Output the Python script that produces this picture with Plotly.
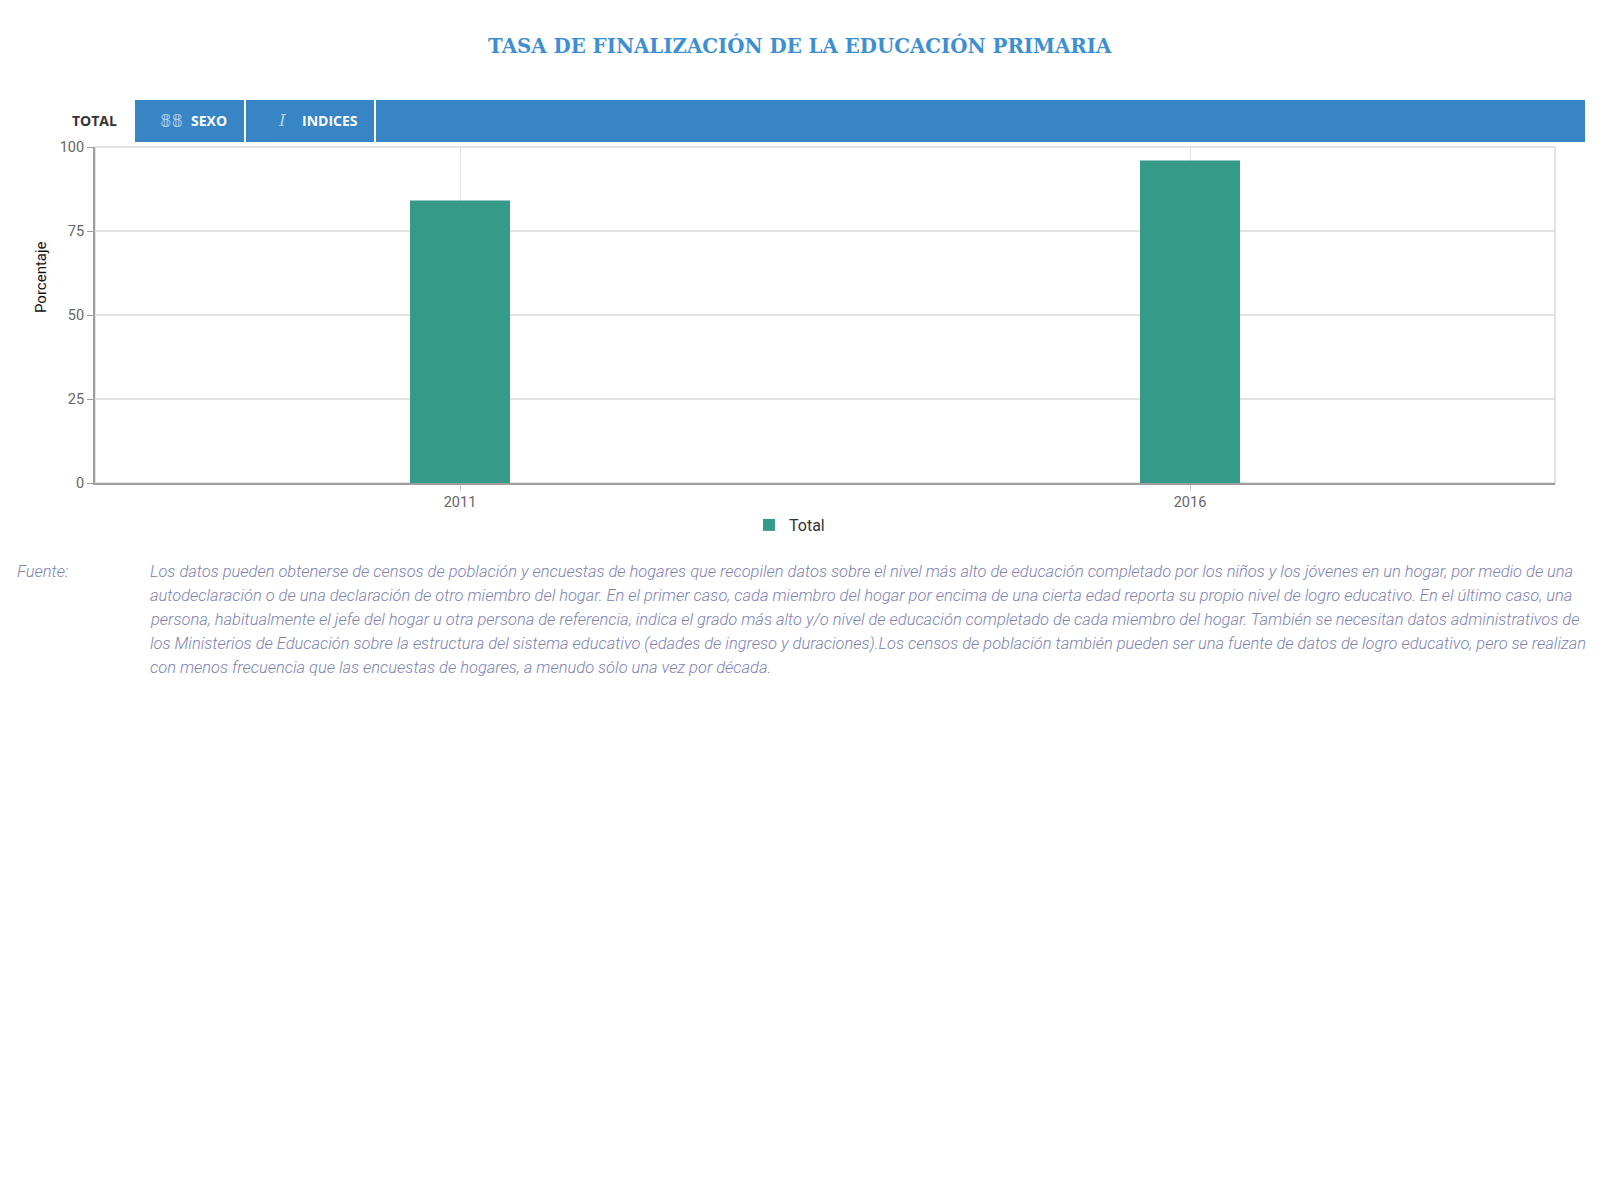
import plotly.graph_objects as go

# datos
years = ["2011", "2016"]
total_pct = [84.1, 96.0]

series_name = "Total"
title_text = "TASA DE FINALIZACIÓN DE LA EDUCACIÓN PRIMARIA"
y_title = "Porcentaje"
y_ticks = [0, 25, 50, 75, 100]

source_label = "Fuente:"
source_lines = [
    "Los datos pueden obtenerse de censos de población y encuestas de hogares que recopilen datos sobre el nivel más alto de educación completado por los niños y los jóvenes en un hogar, por medio de una",
    "autodeclaración o de una declaración de otro miembro del hogar. En el primer caso, cada miembro del hogar por encima de una cierta edad reporta su propio nivel de logro educativo. En el último caso, una",
    "persona, habitualmente el jefe del hogar u otra persona de referencia, indica el grado más alto y/o nivel de educación completado de cada miembro del hogar. También se necesitan datos administrativos de",
    "los Ministerios de Educación sobre la estructura del sistema educativo (edades de ingreso y duraciones).Los censos de población también pueden ser una fuente de datos de logro educativo, pero se realizan",
    "con menos frecuencia que las encuestas de hogares, a menudo sólo una vez por década.",
]

W, H = 1600, 1200
OFF = 8  # body margin of the html page
# plot area measured on the page, in pixels
L, R, T, B = 95, 1555, 147, 483


def px(x):
    return (x - L) / (R - L)


def py(y):
    return (B - y) / (B - T)


BLUE = "#3785c5"
GREEN = "#369a89"
NOTE = "#7c82b2"

fig = go.Figure(go.Bar(
    x=years, y=total_pct, name=series_name,
    marker=dict(color=GREEN, line=dict(width=0)),
    width=0.137, hoverinfo="x+y",
))


def tab(x0, x1):
    return dict(type="rect", xref="paper", yref="paper", x0=px(x0), x1=px(x1),
                y0=py(142), y1=py(100), fillcolor=BLUE, line=dict(width=0))


shapes = [
    # light frame on top/right
    dict(type="rect", xref="paper", yref="paper", x0=0, x1=1, y0=0, y1=1,
         line=dict(color="#e3e3e3", width=2), layer="below"),
    tab(135, 244), tab(246, 374), tab(376, 1585),
]


def label(text, x, y, font, **kw):
    d = dict(text=text, x=px(x), y=py(y), xref="paper", yref="paper",
             showarrow=False, xanchor="center", yanchor="middle", font=font)
    d.update(kw)
    return d


tabfont = dict(family="Open Sans", size=14, weight="bold")
iconcolor = "#b3cfea"
notefont = dict(family="Roboto", size=16.45, color=NOTE, style="italic", weight=300)

annotations = [
    label(title_text, 800, 46,
          dict(family="Roboto Slab, DejaVu Serif", size=19.8, color="#3d8fd1", weight="bold")),
    label("TOTAL", 94, 120, dict(tabfont, color="#333333")),
    label("𝟠𝟠", 171, 120, dict(family="DejaVu Sans", size=18, color=iconcolor)),
    label("SEXO", 209, 120, dict(tabfont, color="white")),
    label("I", 282, 120, dict(family="DejaVu Serif", size=17, color=iconcolor, style="italic")),
    label("INDICES", 330, 120, dict(tabfont, color="white")),
    label(y_title, 41, 277, dict(family="Roboto", size=15, color="#111111"), textangle=-90),
    label(source_label, 15, 571, notefont, xanchor="left"),
]

for i, line in enumerate(source_lines):
    annotations.append(label(line, 148, 571 + 24 * i, notefont, xanchor="left"))

fig.update_layout(
    width=W, height=H,
    margin=dict(l=L - OFF, r=W - R + OFF, t=T - OFF, b=H - B + OFF, pad=0),
    paper_bgcolor="white", plot_bgcolor="white",
    font=dict(family="Roboto", size=14, color="#666666"),
    showlegend=True,
    legend=dict(orientation="h", x=px(749), y=py(525), xanchor="left", yanchor="middle",
                font=dict(family="Roboto", size=16, color="#333333")),
    xaxis=dict(type="category", showgrid=True, gridcolor="#e3e3e3", gridwidth=1,
               showline=True, linecolor="#9e9e9e", linewidth=2,
               ticks="outside", ticklen=5, tickcolor="#c8c8c8",
               tickfont=dict(size=14.5, color="#666666")),
    yaxis=dict(range=[0, 100], tickvals=y_ticks, showgrid=True, gridcolor="#e3e3e3",
               gridwidth=2, zeroline=False,
               showline=True, linecolor="#9e9e9e", linewidth=2,
               ticks="outside", ticklen=6, tickcolor="#9e9e9e",
               tickfont=dict(size=14.5, color="#666666")),
    shapes=shapes,
    annotations=annotations,
)

fig.write_html("out.html")
